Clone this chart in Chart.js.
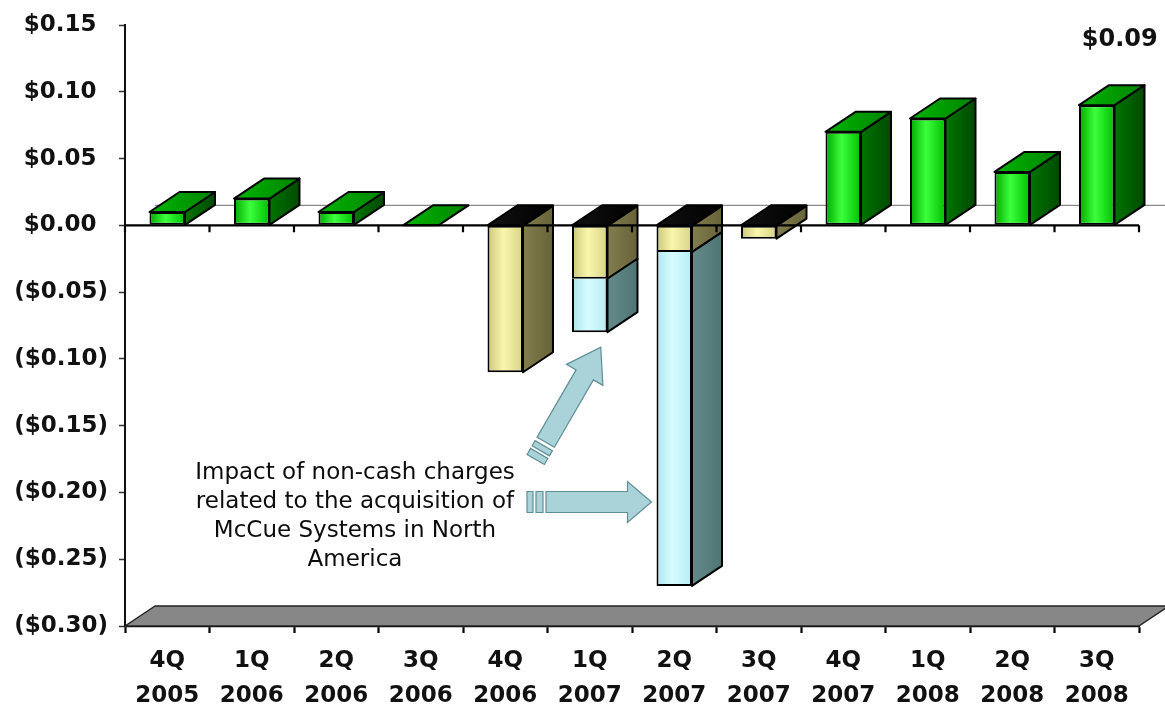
<!DOCTYPE html>
<html>
<head>
<meta charset="utf-8">
<script src="https://cdn.jsdelivr.net/npm/chart.js@4.4.0/dist/chart.umd.min.js"></script>
<style>
  html, body { margin: 0; padding: 0; background: #ffffff; }
  #wrap { width: 1165px; height: 707px; position: relative; }
</style>
</head>
<body>
<div id="wrap"><canvas id="eps"></canvas></div>
<script>
// Quarterly EPS, 4Q 2005 – 3Q 2008
const quarters = [
  ['4Q', '2005'], ['1Q', '2006'], ['2Q', '2006'], ['3Q', '2006'],
  ['4Q', '2006'], ['1Q', '2007'], ['2Q', '2007'], ['3Q', '2007'],
  ['4Q', '2007'], ['1Q', '2008'], ['2Q', '2008'], ['3Q', '2008']
];
// Positive quarters
const epsPositive = [0.01, 0.02, 0.01, 0.00, null, null, null, null, 0.07, 0.08, 0.04, 0.09];
// Loss excluding the non-cash acquisition charges
const epsLoss = [null, null, null, null, -0.11, -0.04, -0.02, -0.01, null, null, null, null];
// Non-cash charges related to the McCue Systems acquisition
const nonCashCharges = [null, null, null, null, null, -0.04, -0.25, null, null, null, null, null];
// Value axis ticks
const yTickValues = [0.15, 0.10, 0.05, 0.00, -0.05, -0.10, -0.15, -0.20, -0.25, -0.30];
// Call-out text
const noteLines = ['Impact of non-cash charges', 'related to the acquisition of', 'McCue Systems in North', 'America'];

const DX = 30, DY = -20;           // depth of the 3-D columns
const BAR_FRACTION = 0.42;
const TICK_FONT = { family: 'DejaVu Sans', size: 23, weight: 'bold' };

const palette = {
  green:  { front: ['#00a800', '#3cff3c', '#00c000'], side: ['#007400', '#004a00'], top: ['#00b400', '#008400'] },
  yellow: { front: ['#cbc67a', '#faf7ac', '#d6d288'], side: ['#837e4e', '#676238'], top: ['#111111', '#000000'] },
  cyan:   { front: ['#aee6ee', '#d6fcff', '#b6edf3'], side: ['#648a8a', '#4f7474'] }
};

function frontFill(stops) {
  return (ctx) => {
    const chart = ctx.chart;
    const xs = chart.scales && chart.scales.x;
    if (!xs || ctx.type !== 'data') return stops[1];
    const cx = xs.getPixelForValue(ctx.dataIndex);
    const w = xs.width / quarters.length * BAR_FRACTION;
    if (!Number.isFinite(cx) || !Number.isFinite(w) || w <= 0) return stops[1];
    const g = chart.ctx.createLinearGradient(cx - w / 2, 0, cx + w / 2, 0);
    g.addColorStop(0, stops[0]);
    g.addColorStop(0.45, stops[1]);
    g.addColorStop(1, stops[2]);
    return g;
  };
}

function poly(ctx, pts, fill, stroke, lw) {
  ctx.beginPath();
  ctx.moveTo(pts[0][0], pts[0][1]);
  for (let i = 1; i < pts.length; i++) ctx.lineTo(pts[i][0], pts[i][1]);
  ctx.closePath();
  if (fill) { ctx.fillStyle = fill; ctx.fill(); }
  if (stroke) { ctx.strokeStyle = stroke; ctx.lineWidth = lw || 2; ctx.stroke(); }
}

function hGrad(ctx, x0, x1, stops) {
  if (!Number.isFinite(x0) || !Number.isFinite(x1)) return stops[0];
  const g = ctx.createLinearGradient(x0, 0, x1, 0);
  g.addColorStop(0, stops[0]);
  g.addColorStop(1, stops[1]);
  return g;
}

// Floor, back wall baseline, zero axis and the depth faces of every column
const depthPlugin = {
  id: 'depth',
  beforeDatasetsDraw(chart) {
    const { ctx, chartArea: a, scales: { x, y } } = chart;
    const y0 = y.getPixelForValue(0);
    const yMin = y.getPixelForValue(y.min);
    ctx.save();
    ctx.lineJoin = 'round';

    // floor
    poly(ctx, [[a.left, yMin], [a.right, yMin], [a.right + DX, yMin + DY], [a.left + DX, yMin + DY]], '#878787', '#222', 1.5);

    // back wall zero line
    ctx.beginPath();
    ctx.moveTo(a.left + DX, y0 + DY);
    ctx.lineTo(chart.width, y0 + DY);
    ctx.strokeStyle = '#8a8a8a';
    ctx.lineWidth = 1.2;
    ctx.stroke();

    // depth faces
    const styles = ['green', 'yellow', 'cyan'];
    chart.data.datasets.forEach((ds, di) => {
      const meta = chart.getDatasetMeta(di);
      const pal = palette[styles[di]];
      meta.data.forEach((el, i) => {
        const v = ds.data[i];
        if (v === null || v === undefined) return;
        const p = el.getProps(['x', 'y', 'base', 'width'], true);
        if (![p.x, p.y, p.base, p.width].every(Number.isFinite)) return;
        const l = p.x - p.width / 2, r = p.x + p.width / 2;
        const top = Math.min(p.y, p.base), bot = Math.max(p.y, p.base);
        if (bot - top > 0.5) {
          poly(ctx, [[r, top], [r + DX, top + DY], [r + DX, bot + DY], [r, bot]],
               hGrad(ctx, r, r + DX, pal.side), '#000', 2);
        }
        if (pal.top) {
          const ty = styles[di] === 'green' ? top : y0;
          poly(ctx, [[l, ty], [l + DX, ty + DY], [r + DX, ty + DY], [r, ty]],
               hGrad(ctx, l, r + DX, pal.top), '#000', 2);
        }
      });
    });

    // zero axis line with category ticks
    const step = (a.right - a.left) / quarters.length;
    ctx.beginPath();
    ctx.moveTo(a.left, y0);
    ctx.lineTo(a.right, y0);
    for (let i = 0; i <= quarters.length; i++) {
      const tx = a.left + i * step;
      ctx.moveTo(tx, y0);
      ctx.lineTo(tx, y0 + 7);
    }
    ctx.strokeStyle = '#000';
    ctx.lineWidth = 2.2;
    ctx.stroke();
    ctx.restore();
  }
};

function drawArrow(ctx, tail, tip, shaftHalf, headLen, headHalf, stripes) {
  const dx = tip[0] - tail[0], dy = tip[1] - tail[1];
  const len = Math.hypot(dx, dy);
  const ux = dx / len, uy = dy / len;
  const nx = -uy, ny = ux;
  const at = (s, n) => [tail[0] + ux * s + nx * n, tail[1] + uy * s + ny * n];
  const hb = len - headLen;
  const fill = '#a9d2d9', stroke = '#5f8f96';
  poly(ctx, [at(0, -shaftHalf), at(hb, -shaftHalf), at(hb, -headHalf), at(len, 0),
             at(hb, headHalf), at(hb, shaftHalf), at(0, shaftHalf)], fill, stroke, 1.2);
  stripes.forEach(([s0, s1]) => {
    poly(ctx, [at(-s0, -shaftHalf), at(-s1, -shaftHalf), at(-s1, shaftHalf), at(-s0, shaftHalf)], fill, stroke, 1.2);
  });
}

// Value label, arrows and call-out text
const notesPlugin = {
  id: 'notes',
  afterDatasetsDraw(chart) {
    const { ctx, chartArea: a } = chart;
    ctx.save();

    // value label above the latest quarter
    const last = epsPositive.length - 1;
    const lastEl = chart.getDatasetMeta(0).data[last];
    ctx.font = 'bold 24px "DejaVu Sans"';
    ctx.fillStyle = '#111';
    ctx.textAlign = 'center';
    ctx.textBaseline = 'alphabetic';
    ctx.fillText('$' + epsPositive[last].toFixed(2), lastEl.x + 23, a.top + 21);

    // arrows pointing at the charge segments
    const m = chart.getDatasetMeta(2);
    const b1 = m.data[5].getProps(['x', 'y', 'width'], true);
    const b2 = m.data[6].getProps(['x', 'y', 'width'], true);
    const tip1 = [b1.x + 11, b1.y + 15];
    drawArrow(ctx, [tip1[0] - 55, tip1[1] + 95], tip1, 10, 32, 21, [[4, 10], [13, 20]]);
    const tip2 = [b2.x - b2.width / 2 - 5, 502];
    drawArrow(ctx, [546, 502], tip2, 10.5, 24, 20.5, [[3, 10], [13, 19]]);

    // call-out text
    ctx.font = '23px "DejaVu Sans"';
    ctx.fillStyle = '#0c0c0c';
    ctx.textAlign = 'center';
    noteLines.forEach((t, i) => ctx.fillText(t, a.left + 230, 479 + i * 29));
    ctx.restore();
  }
};

new Chart(document.getElementById('eps'), {
  type: 'bar',
  data: {
    labels: quarters,
    datasets: [
      { label: 'EPS', data: epsPositive, backgroundColor: frontFill(palette.green.front) },
      { label: 'EPS excluding charges', data: epsLoss, backgroundColor: frontFill(palette.yellow.front) },
      { label: 'Non-cash charges', data: nonCashCharges, backgroundColor: frontFill(palette.cyan.front), borderSkipped: 'start' }
    ]
  },
  options: {
    responsive: true,
    maintainAspectRatio: false,
    animation: false,
    devicePixelRatio: 1,
    layout: { padding: { top: 25, right: 26, left: 0, bottom: 0 } },
    datasets: {
      bar: {
        borderColor: '#000',
        borderWidth: 2,
        borderSkipped: false,
        categoryPercentage: 1,
        barPercentage: BAR_FRACTION
      }
    },
    plugins: { legend: { display: false }, tooltip: { enabled: false }, title: { display: false } },
    scales: {
      x: {
        stacked: true,
        position: 'bottom',
        afterFit: (s) => { s.height = 81; },
        grid: { offset: true, drawOnChartArea: false, tickLength: 7, tickColor: '#000', tickWidth: 2.2 },
        border: { display: true, color: '#000', width: 2.2 },
        ticks: { color: '#111', font: { ...TICK_FONT, lineHeight: 1.55 }, padding: 10, maxRotation: 0, autoSkip: false }
      },
      y: {
        stacked: true,
        min: -0.30,
        max: 0.15,
        afterFit: (s) => { s.width = 125; },
        afterBuildTicks: (s) => { s.ticks = yTickValues.map(v => ({ value: v })); },
        grid: { drawOnChartArea: false, tickLength: 6, tickColor: '#333', tickWidth: 1.5 },
        border: { display: true, color: '#111', width: 2 },
        ticks: {
          color: '#111',
          font: TICK_FONT,
          padding: 11,
          callback: (v) => v < 0 ? '($' + Math.abs(v).toFixed(2) + ')' : '$' + v.toFixed(2) + '\u2002'
        }
      }
    }
  },
  plugins: [depthPlugin, notesPlugin]
});
</script>
</body>
</html>
